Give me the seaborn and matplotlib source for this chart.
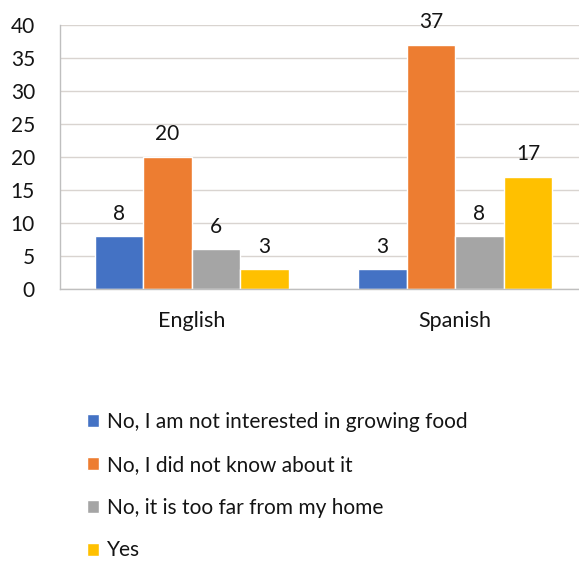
import matplotlib
matplotlib.use("Agg")
import matplotlib.pyplot as plt
import seaborn as sns
import pandas as pd

# Survey responses by language of the questionnaire
languages = ["English", "Spanish"]
responses = [
    "No, I am not interested in growing food",
    "No, I did not know about it",
    "No, it is too far from my home",
    "Yes",
]
not_interested = [8, 3]
did_not_know = [20, 37]
too_far = [6, 8]
yes_answers = [3, 17]
colors = ["#4472C4", "#ED7D31", "#A5A5A5", "#FFC000"]
y_ticks = [0, 5, 10, 15, 20, 25, 30, 35, 40]

counts = [not_interested, did_not_know, too_far, yes_answers]
rows = []
for resp, vals in zip(responses, counts):
    for lang, v in zip(languages, vals):
        rows.append({"Language": lang, "Response": resp, "Count": v})
df = pd.DataFrame(rows)

sns.set_theme(style="white")
plt.rcParams["font.family"] = ["Lato", "DejaVu Sans"]
text_color = "#141414"

fig = plt.figure(figsize=(5.79, 5.62), dpi=100)
ax = fig.add_axes([60 / 579, 273 / 562, 519 / 579, 264 / 562])

sns.barplot(data=df, x="Language", y="Count", hue="Response",
            hue_order=responses, palette=colors, width=0.736,
            saturation=1, errorbar=None, ax=ax, legend=True)

for cont in ax.containers:
    ax.bar_label(cont, padding=9, fontsize=15, color=text_color)

ax.set_xlim(-0.5, -0.5 + 519 / 263.5)
ax.set_ylim(0, 40)
ax.set_yticks(y_ticks)
ax.yaxis.grid(True, color="#d9d4d0", linewidth=1)
ax.set_axisbelow(True)
ax.set_xlabel("")
ax.set_ylabel("")
ax.tick_params(axis="y", labelsize=15, length=0, pad=18, labelcolor=text_color)
ax.tick_params(axis="x", labelsize=15.5, length=0, pad=16, labelcolor=text_color)
for side in ["top", "right"]:
    ax.spines[side].set_visible(False)
for side in ["left", "bottom"]:
    ax.spines[side].set_color("#bfbfbf")
    ax.spines[side].set_linewidth(1)

handles, labels = ax.get_legend_handles_labels()
ax.get_legend().remove()
fig.legend(handles, labels, loc="upper left", bbox_to_anchor=(68 / 579, 1 - 393 / 562),
           frameon=False, fontsize=15, handlelength=0.6, handleheight=0.6,
           handletextpad=0.35, labelspacing=1.1, labelcolor=text_color)

fig.savefig("out.png", dpi=100)
